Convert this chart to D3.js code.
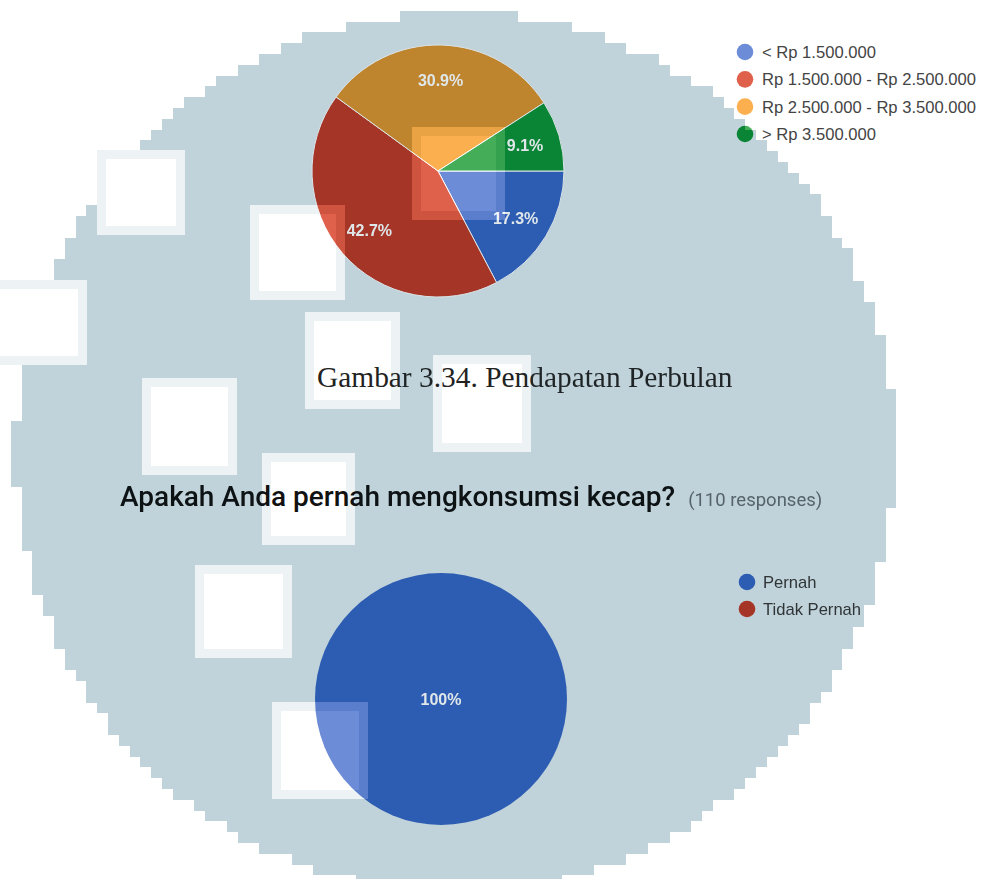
<!DOCTYPE html>
<html>
<head>
<meta charset="utf-8">
<script src="https://cdn.jsdelivr.net/npm/d3@7"></script>
<style>
  body { margin: 0; background: #fff; }
  svg { display: block; }
</style>
</head>
<body>
<svg id="chart" width="986" height="879"></svg>
<script>
// data
const incomeLabels = ["< Rp 1.500.000", "Rp 1.500.000 - Rp 2.500.000", "Rp 2.500.000 - Rp 3.500.000", "> Rp 3.500.000"];
const incomeShares = [17.3, 42.7, 30.9, 9.1];
const consumeLabels = ["Pernah", "Tidak Pernah"];
const consumeCounts = [110, 0];
const captionText = "Gambar 3.34. Pendapatan Perbulan";
const questionText = "Apakah Anda pernah mengkonsumsi kecap?";
const responsesText = "(110 responses)";

// colours: plain (outside the watermark) and darkened (inside it)
const light = {
  slices: ["#6d8cd7", "#e0614b", "#fbaf4e", "#44ad58"],
  label: "#ffffff", stroke: "#ffffff", legend: "#444444",
  title: "#111111", caption: "#222222", sub: "#666666"
};
const dark = {
  slices: ["#2d5db2", "#a53627", "#bf852e", "#0a8535"],
  label: "#e0e7ea", stroke: "#dbe4e8", legend: "#2f3436",
  title: "#0d1215", caption: "#1f2426", sub: "#56636a"
};

let svg = d3.select("#chart");
const W = 986, H = 879;

let pie = d3.pie().sort(null).value(d => d)
    .startAngle(Math.PI / 2).endAngle(Math.PI / 2 + 2 * Math.PI);

let topPie = {cx: 438, cy: 171, r: 126};
let botPie = {cx: 441, cy: 699, r: 126};

function drawScene(g, pal) {
    // top pie
    let arc = d3.arc().innerRadius(0).outerRadius(topPie.r);
    let labelArc = d3.arc().innerRadius(topPie.r * 0.72).outerRadius(topPie.r * 0.72);
    let gTop = g.append("g").attr("transform", `translate(${topPie.cx}, ${topPie.cy})`);
    let arcsTop = pie(incomeShares);
    gTop.selectAll("path").data(arcsTop).enter().append("path")
        .attr("d", arc)
        .attr("fill", (d, i) => pal.slices[i])
        .attr("stroke", pal.stroke)
        .attr("stroke-width", 1);
    gTop.selectAll("text").data(arcsTop).enter().append("text")
        .attr("transform", d => `translate(${labelArc.centroid(d)})`)
        .attr("text-anchor", "middle")
        .attr("dy", "0.36em")
        .attr("font-family", "Liberation Sans, Arial, sans-serif")
        .attr("font-size", 16)
        .attr("font-weight", "bold")
        .attr("fill", pal.label)
        .text(d => d.data.toFixed(1) + "%");

    // top legend
    let legY = d3.scalePoint().domain(incomeLabels).range([52, 134]);
    let leg = g.append("g");
    leg.selectAll("circle").data(incomeLabels).enter().append("circle")
        .attr("cx", 745).attr("cy", d => legY(d)).attr("r", 8.3)
        .attr("fill", (d, i) => pal.slices[i]);
    leg.selectAll("text").data(incomeLabels).enter().append("text")
        .attr("x", 762).attr("y", d => legY(d)).attr("dy", "0.36em")
        .attr("font-family", "Liberation Sans, Arial, sans-serif")
        .attr("font-size", 16.6)
        .attr("fill", pal.legend)
        .text(d => d);

    // caption
    g.append("text")
        .attr("x", 317).attr("y", 387)
        .attr("font-family", "Liberation Serif, Times New Roman, serif")
        .attr("font-size", 29.4)
        .attr("fill", pal.caption)
        .text(captionText);

    // question title
    let t = g.append("text")
        .attr("x", 120).attr("y", 506)
        .attr("font-family", "Roboto, sans-serif");
    t.append("tspan")
        .attr("font-size", 28).attr("font-weight", 500)
        .attr("fill", pal.title)
        .text(questionText);
    t.append("tspan")
        .attr("dx", 13)
        .attr("font-size", 18.5)
        .attr("fill", pal.sub)
        .text(responsesText);

    // bottom pie
    let arc2 = d3.arc().innerRadius(0).outerRadius(botPie.r);
    let gBot = g.append("g").attr("transform", `translate(${botPie.cx}, ${botPie.cy})`);
    let arcsBot = pie(consumeCounts).filter(d => d.value > 0);
    gBot.selectAll("path").data(arcsBot).enter().append("path")
        .attr("d", arc2)
        .attr("fill", d => pal.slices[d.index]);
    let total = d3.sum(consumeCounts);
    gBot.selectAll("text").data(arcsBot).enter().append("text")
        .attr("transform", d => d.value === total ? "translate(0,0)" : `translate(${arc2.centroid(d)})`)
        .attr("text-anchor", "middle")
        .attr("dy", "0.36em")
        .attr("font-family", "Liberation Sans, Arial, sans-serif")
        .attr("font-size", 16)
        .attr("font-weight", "bold")
        .attr("fill", pal.label)
        .text(d => Math.round(d.value / total * 100) + "%");

    // bottom legend
    let legY2 = d3.scalePoint().domain(consumeLabels).range([582, 609]);
    let leg2 = g.append("g");
    leg2.selectAll("circle").data(consumeLabels).enter().append("circle")
        .attr("cx", 747).attr("cy", d => legY2(d)).attr("r", 8.3)
        .attr("fill", (d, i) => pal.slices[i]);
    leg2.selectAll("text").data(consumeLabels).enter().append("text")
        .attr("x", 763).attr("y", d => legY2(d)).attr("dy", "0.36em")
        .attr("font-family", "Liberation Sans, Arial, sans-serif")
        .attr("font-size", 16.6)
        .attr("fill", pal.legend)
        .text(d => d);
}

// watermark: blocky grey disc with white squares punched into it
let defs = svg.append("defs");
let mask = defs.append("mask").attr("id", "blob")
    .attr("maskUnits", "userSpaceOnUse")
    .attr("x", 0).attr("y", 0).attr("width", W).attr("height", H);
let blob = {cx: 455, cy: 452, r: 440, cell: 10.8};
let rows = d3.range(Math.ceil(H / blob.cell)).map(j => {
    let yc = j * blob.cell + blob.cell / 2;
    let dy = yc - blob.cy;
    if (Math.abs(dy) >= blob.r) return null;
    let half = Math.sqrt(blob.r * blob.r - dy * dy);
    let x0 = Math.round((blob.cx - half) / blob.cell) * blob.cell;
    let x1 = Math.round((blob.cx + half) / blob.cell) * blob.cell;
    return {y: j * blob.cell, x0: x0, x1: x1};
}).filter(d => d);
mask.selectAll("rect.row").data(rows).enter().append("rect")
    .attr("class", "row")
    .attr("x", d => d.x0).attr("y", d => d.y)
    .attr("width", d => d.x1 - d.x0).attr("height", blob.cell + 0.5)
    .attr("fill", "#fff")
    .attr("shape-rendering", "crispEdges");

// [x, y, w, h] of the holes
const holes = [
    [97, 150, 88, 85], [250, 205, 95, 95], [412, 127, 93, 93],
    [305, 312, 95, 97], [142, 378, 95, 97], [262, 453, 93, 92],
    [433, 355, 98, 97], [195, 565, 97, 93], [272, 702, 96, 97],
    [-10, 280, 97, 85]
];
holes.forEach(h => {
    mask.append("rect")
        .attr("x", h[0]).attr("y", h[1]).attr("width", h[2]).attr("height", h[3])
        .attr("fill", "#4a4a4a").attr("shape-rendering", "crispEdges");
    mask.append("rect")
        .attr("x", h[0] + 9).attr("y", h[1] + 9).attr("width", h[2] - 18).attr("height", h[3] - 18)
        .attr("fill", "#000").attr("shape-rendering", "crispEdges");
});

svg.append("rect").attr("width", W).attr("height", H).attr("fill", "#fff");
drawScene(svg.append("g"), light);

let inside = svg.append("g").attr("mask", "url(#blob)");
inside.append("rect").attr("width", W).attr("height", H).attr("fill", "#c1d3da");
drawScene(inside.append("g"), dark);
</script>
</body>
</html>
